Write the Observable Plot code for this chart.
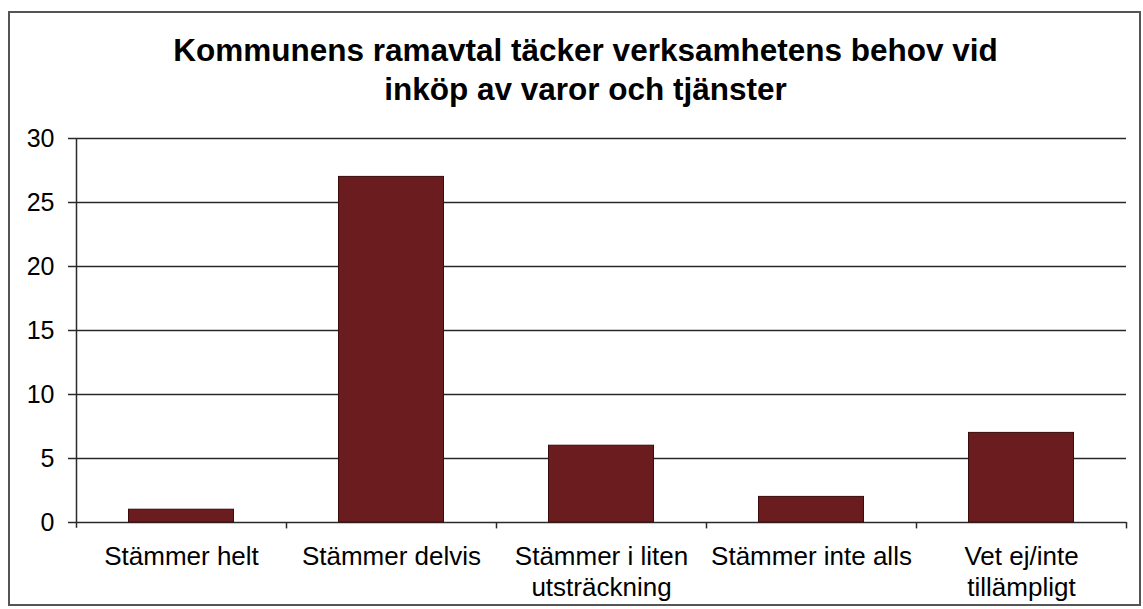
<!DOCTYPE html>
<html>
<head>
<meta charset="utf-8">
<script src="https://cdn.jsdelivr.net/npm/d3@7"></script>
<script src="https://cdn.jsdelivr.net/npm/@observablehq/plot@0.6"></script>
<style>
  html, body { margin: 0; padding: 0; background: #fff; }
  #wrap { position: relative; width: 1143px; height: 609px; overflow: hidden; font-family: "Liberation Sans", Arial, sans-serif; }
  #frame { position: absolute; left: 8px; top: 11px; width: 1133px; height: 595px; border: 2px solid #555; box-sizing: border-box; pointer-events: none; }
  #title { position: absolute; left: 0; top: 0; width: 1171px; height: 118px; box-sizing: border-box; padding-top: 31px; text-align: center; font-weight: bold; font-size: 31.5px; line-height: 38.5px; color: #000; white-space: nowrap; }
  #chart { position: absolute; left: 0; top: 118px; }
</style>
</head>
<body>
<div id="wrap">
  <div id="title">Kommunens ramavtal täcker verksamhetens behov vid<br>inköp av varor och tjänster</div>
  <div id="chart"></div>
  <div id="frame"></div>
</div>
<script>
const categories = ["Stämmer helt", "Stämmer delvis", "Stämmer i liten utsträckning", "Stämmer inte alls", "Vet ej/inte tillämpligt"];
const values = [1, 27, 6, 2, 7];
const tickLabels = ["Stämmer helt", "Stämmer delvis", "Stämmer i liten\nutsträckning", "Stämmer inte alls", "Vet ej/inte\ntillämpligt"];
const yTicks = [0, 5, 10, 15, 20, 25, 30];

const data = categories.map((c, i) => ({category: c, value: values[i]}));
const labelOf = new Map(categories.map((c, i) => [c, tickLabels[i]]));

const svgHeight = 609 - 118;
const plot = Plot.plot({
  width: 1143,
  height: svgHeight,
  marginLeft: 76,
  marginRight: 17,
  marginTop: 138 - 118,
  marginBottom: svgHeight - (522 - 118),
  style: {fontFamily: "'Liberation Sans', Arial, sans-serif", background: "transparent", color: "#000"},
  x: {domain: categories, padding: 0, label: null},
  y: {domain: [0, 30], label: null},
  marks: [
    Plot.gridY(yTicks, {stroke: "#2a2a2a", strokeOpacity: 1, strokeWidth: 1.5}),
    Plot.axisY(yTicks, {tickSize: 8, tickPadding: 14, fontSize: 25, stroke: "#2a2a2a", strokeWidth: 1.5, label: null}),
    Plot.barY(data, {x: "category", y: "value", fill: "#6b1c1e", stroke: "#3a0c0c", strokeWidth: 1, insetLeft: 52.5, insetRight: 52.5}),
    // y axis line extended slightly below baseline
    Plot.ruleX([categories[0]], {dx: -105, y1: -0.45, y2: 30, stroke: "#2a2a2a", strokeWidth: 1.5}),
    // band boundary tick marks below the baseline
    Plot.ruleX(categories, {dx: 105, y1: -0.5, y2: 0, stroke: "#2a2a2a", strokeWidth: 1.5}),
    Plot.axisX({tickSize: 0, tickPadding: 21, fontSize: 26, lineHeight: 1.19, tickFormat: d => labelOf.get(d), label: null})
  ]
});
document.getElementById("chart").appendChild(plot);
</script>
</body>
</html>
